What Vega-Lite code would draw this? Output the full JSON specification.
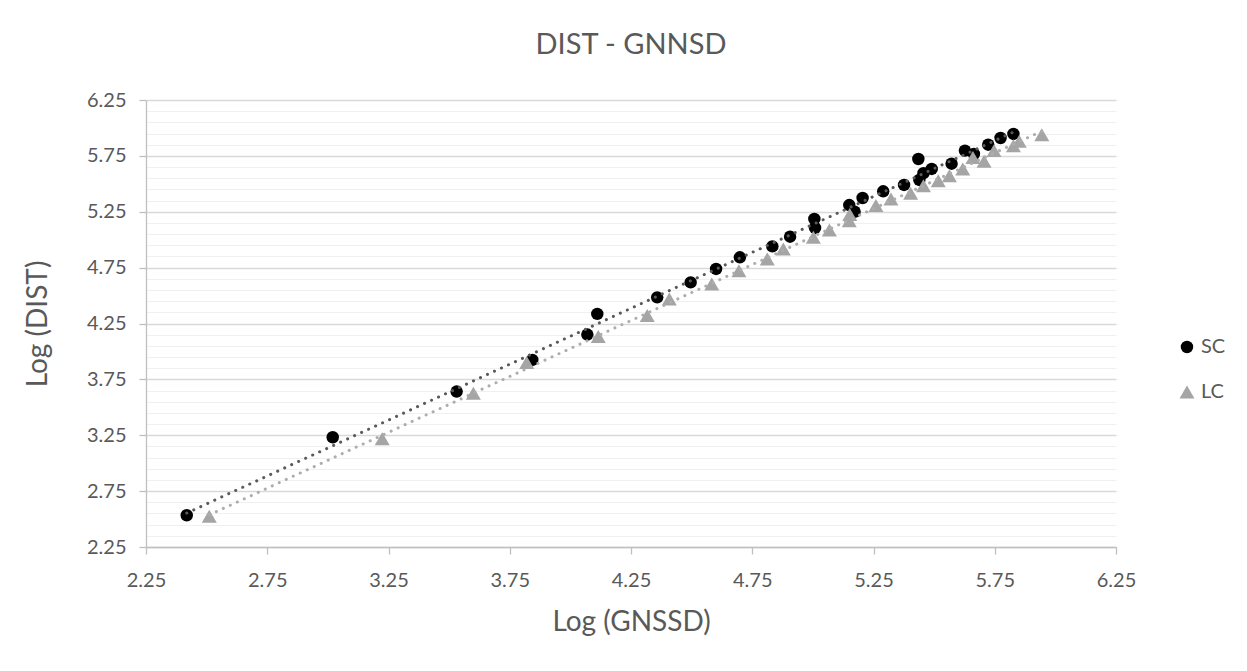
{
  "$schema": "https://vega.github.io/schema/vega-lite/v6.json",
  "width": 970,
  "height": 447,
  "autosize": {"type": "none"},
  "padding": {"left": 146, "top": 100, "right": 131, "bottom": 124},
  "background": "white",
  "title": {"text": "DIST - GNNSD", "fontSize": 29, "font": "Lato", "fontWeight": "normal", "color": "#595959", "offset": 30, "anchor": "middle"},
  "config": {"view": {"stroke": null}, "font": "Lato"},
  "data": {"values": [
    {"series": "SC", "gnssd": 2.418, "dist": 2.534},
    {"series": "SC", "gnssd": 3.020, "dist": 3.232},
    {"series": "SC", "gnssd": 3.531, "dist": 3.641},
    {"series": "SC", "gnssd": 3.843, "dist": 3.924},
    {"series": "SC", "gnssd": 4.070, "dist": 4.151},
    {"series": "SC", "gnssd": 4.111, "dist": 4.336},
    {"series": "SC", "gnssd": 4.358, "dist": 4.484},
    {"series": "SC", "gnssd": 4.496, "dist": 4.618},
    {"series": "SC", "gnssd": 4.601, "dist": 4.738},
    {"series": "SC", "gnssd": 4.699, "dist": 4.842},
    {"series": "SC", "gnssd": 4.833, "dist": 4.940},
    {"series": "SC", "gnssd": 4.906, "dist": 5.027},
    {"series": "SC", "gnssd": 5.006, "dist": 5.186},
    {"series": "SC", "gnssd": 5.009, "dist": 5.105},
    {"series": "SC", "gnssd": 5.150, "dist": 5.310},
    {"series": "SC", "gnssd": 5.172, "dist": 5.250},
    {"series": "SC", "gnssd": 5.205, "dist": 5.373},
    {"series": "SC", "gnssd": 5.290, "dist": 5.433},
    {"series": "SC", "gnssd": 5.376, "dist": 5.490},
    {"series": "SC", "gnssd": 5.435, "dist": 5.722},
    {"series": "SC", "gnssd": 5.439, "dist": 5.535},
    {"series": "SC", "gnssd": 5.456, "dist": 5.595},
    {"series": "SC", "gnssd": 5.490, "dist": 5.633},
    {"series": "SC", "gnssd": 5.572, "dist": 5.680},
    {"series": "SC", "gnssd": 5.627, "dist": 5.797},
    {"series": "SC", "gnssd": 5.664, "dist": 5.767},
    {"series": "SC", "gnssd": 5.723, "dist": 5.850},
    {"series": "SC", "gnssd": 5.774, "dist": 5.910},
    {"series": "SC", "gnssd": 5.827, "dist": 5.946},
    {"series": "LC", "gnssd": 2.511, "dist": 2.525},
    {"series": "LC", "gnssd": 3.224, "dist": 3.218},
    {"series": "LC", "gnssd": 3.600, "dist": 3.626},
    {"series": "LC", "gnssd": 3.820, "dist": 3.900},
    {"series": "LC", "gnssd": 4.115, "dist": 4.133},
    {"series": "LC", "gnssd": 4.317, "dist": 4.321},
    {"series": "LC", "gnssd": 4.408, "dist": 4.470},
    {"series": "LC", "gnssd": 4.583, "dist": 4.604},
    {"series": "LC", "gnssd": 4.695, "dist": 4.723},
    {"series": "LC", "gnssd": 4.812, "dist": 4.828},
    {"series": "LC", "gnssd": 4.878, "dist": 4.917},
    {"series": "LC", "gnssd": 5.002, "dist": 5.021},
    {"series": "LC", "gnssd": 5.068, "dist": 5.087},
    {"series": "LC", "gnssd": 5.150, "dist": 5.170},
    {"series": "LC", "gnssd": 5.152, "dist": 5.225},
    {"series": "LC", "gnssd": 5.260, "dist": 5.305},
    {"series": "LC", "gnssd": 5.322, "dist": 5.364},
    {"series": "LC", "gnssd": 5.403, "dist": 5.415},
    {"series": "LC", "gnssd": 5.456, "dist": 5.483},
    {"series": "LC", "gnssd": 5.517, "dist": 5.528},
    {"series": "LC", "gnssd": 5.563, "dist": 5.573},
    {"series": "LC", "gnssd": 5.618, "dist": 5.633},
    {"series": "LC", "gnssd": 5.660, "dist": 5.735},
    {"series": "LC", "gnssd": 5.706, "dist": 5.701},
    {"series": "LC", "gnssd": 5.747, "dist": 5.797},
    {"series": "LC", "gnssd": 5.827, "dist": 5.841},
    {"series": "LC", "gnssd": 5.851, "dist": 5.880},
    {"series": "LC", "gnssd": 5.944, "dist": 5.940}
  ]},
  "layer": [
    {
      "mark": {"type": "point", "filled": true, "opacity": 1, "strokeWidth": 0},
      "encoding": {
        "x": {
          "field": "gnssd", "type": "quantitative",
          "scale": {"domain": [2.25, 6.25], "nice": false, "zero": false},
          "axis": {
            "values": [2.25, 2.75, 3.25, 3.75, 4.25, 4.75, 5.25, 5.75, 6.25],
            "tickCount": 100,
            "format": ".2f",
            "grid": false,
            "domainColor": "#bfbfbf", "domainWidth": 1.3,
            "tickColor": "#bfbfbf", "tickSize": 7, "tickWidth": 1.3,
            "labelFontSize": 20, "labelColor": "#595959", "labelPadding": 16, "labelFlush": false,
            "title": "Log (GNSSD)", "titleFontSize": 28, "titleColor": "#595959", "titleFontWeight": "normal", "titlePadding": 18
          }
        },
        "y": {
          "field": "dist", "type": "quantitative",
          "scale": {"domain": [2.25, 6.25], "nice": false, "zero": false},
          "axis": {
            "values": [2.25, 2.35, 2.45, 2.55, 2.65, 2.75, 2.85, 2.95, 3.05, 3.15, 3.25, 3.35, 3.45, 3.55, 3.65, 3.75, 3.85, 3.95, 4.05, 4.15, 4.25, 4.35, 4.45, 4.55, 4.65, 4.75, 4.85, 4.95, 5.05, 5.15, 5.25, 5.35, 5.45, 5.55, 5.65, 5.75, 5.85, 5.95, 6.05, 6.15, 6.25],
            "tickCount": 100,
            "labelExpr": "abs((datum.value-2.25)/0.5 - round((datum.value-2.25)/0.5)) < 0.01 ? format(datum.value, '.2f') : ''",
            "labelOverlap": false,
            "labelFlush": false,
            "grid": true,
            "gridColor": {"condition": {"test": "abs((datum.value-2.25)/0.5 - round((datum.value-2.25)/0.5)) < 0.01", "value": "#d9d9d9"}, "value": "#f0f0f0"},
            "gridWidth": {"condition": {"test": "abs((datum.value-2.25)/0.5 - round((datum.value-2.25)/0.5)) < 0.01", "value": 1.5}, "value": 1.2},
            "tickColor": {"condition": {"test": "abs((datum.value-2.25)/0.5 - round((datum.value-2.25)/0.5)) < 0.01", "value": "#bfbfbf"}, "value": "transparent"},
            "tickSize": 7, "tickWidth": 1.3,
            "domainColor": "#bfbfbf", "domainWidth": 1.3,
            "labelFontSize": 20, "labelColor": "#595959", "labelPadding": 13,
            "title": "Log (DIST)", "titleFontSize": 28, "titleColor": "#595959", "titleFontWeight": "normal", "titlePadding": 34
          }
        },
        "color": {
          "field": "series", "type": "nominal",
          "scale": {"domain": ["SC", "LC"], "range": ["#000000", "#a5a5a5"]},
          "legend": {"orient": "none", "legendX": 1031, "legendY": 237, "title": null, "labelFontSize": 20, "labelColor": "#595959", "rowPadding": 25, "labelOffset": 4}
        },
        "shape": {
          "field": "series", "type": "nominal",
          "scale": {"domain": ["SC", "LC"], "range": ["circle", "triangle-up"]},
          "legend": {"orient": "none", "legendX": 1031, "legendY": 237, "title": null, "labelFontSize": 20, "labelColor": "#595959", "rowPadding": 25, "labelOffset": 4}
        },
        "size": {
          "field": "series", "type": "nominal",
          "scale": {"type": "ordinal", "domain": ["SC", "LC"], "range": [155, 225]},
          "legend": {"orient": "none", "legendX": 1031, "legendY": 237, "title": null, "labelFontSize": 20, "labelColor": "#595959", "rowPadding": 25, "labelOffset": 4}
        }
      }
    },
    {
      "transform": [{"filter": "datum.series === 'SC'"}, {"regression": "dist", "on": "gnssd"}],
      "mark": {"type": "line", "color": "#5a5a5a", "strokeWidth": 3, "strokeDash": [0.1, 7.6], "strokeCap": "round"},
      "encoding": {"x": {"field": "gnssd", "type": "quantitative"}, "y": {"field": "dist", "type": "quantitative"}}
    },
    {
      "transform": [{"filter": "datum.series === 'LC'"}, {"regression": "dist", "on": "gnssd"}],
      "mark": {"type": "line", "color": "#adadad", "strokeWidth": 3, "strokeDash": [0.1, 7.6], "strokeCap": "round"},
      "encoding": {"x": {"field": "gnssd", "type": "quantitative"}, "y": {"field": "dist", "type": "quantitative"}}
    }
  ]
}
